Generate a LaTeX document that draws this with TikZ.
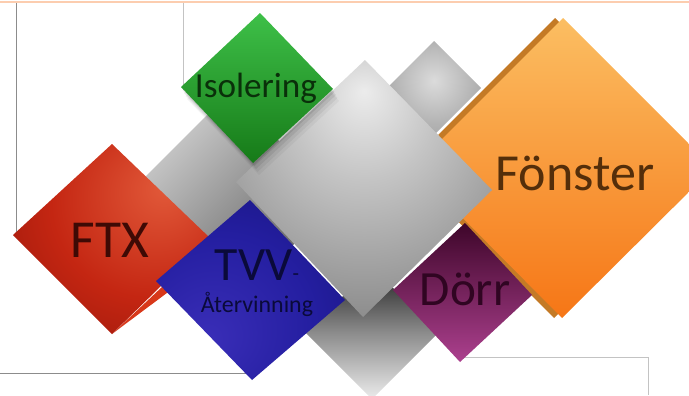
\documentclass[tikz,border=0pt]{standalone}
\usepackage{fontspec}
\setmainfont{Carlito}
\usetikzlibrary{shadings}
% tile colours
\definecolor{peach}{RGB}{252,205,175}
\definecolor{framegrey}{RGB}{140,140,140}
\definecolor{framelight}{RGB}{195,195,195}
\definecolor{redhi}{RGB}{226,90,58}
\definecolor{redmid}{RGB}{196,38,18}
\definecolor{redlo}{RGB}{122,12,6}
\definecolor{redflap}{RGB}{216,56,26}
\definecolor{greenhi}{RGB}{62,192,72}
\definecolor{greenlo}{RGB}{22,122,24}
\definecolor{bluehi}{RGB}{58,46,184}
\definecolor{bluemid}{RGB}{36,30,160}
\definecolor{bluelo}{RGB}{14,12,100}
\definecolor{magtop}{RGB}{62,6,42}
\definecolor{magbot}{RGB}{172,64,142}
\definecolor{orangetop}{RGB}{251,190,98}
\definecolor{orangebot}{RGB}{246,118,22}
\definecolor{orangeside}{RGB}{196,122,38}
\definecolor{greyhi}{RGB}{236,236,236}
\definecolor{greymid}{RGB}{196,196,196}
\definecolor{greylo}{RGB}{145,145,145}
\definecolor{greydeep}{RGB}{110,110,110}
\definecolor{ftxtext}{RGB}{62,10,5}
\definecolor{isotext}{RGB}{10,48,10}
\definecolor{tvvtext}{RGB}{10,10,58}
\definecolor{dorrtext}{RGB}{48,5,34}
\definecolor{fonstertext}{RGB}{84,46,10}
% glow shadings
\pgfdeclareradialshading{greyglow}{\pgfpoint{0bp}{19bp}}{color(0bp)=(greyhi); color(14bp)=(greymid); color(34bp)=(greylo); color(52bp)=(greydeep); color(80bp)=(greydeep)}
\pgfdeclareradialshading{greyback}{\pgfpoint{0bp}{4bp}}{color(0bp)=(black!14); color(22bp)=(black!30); color(45bp)=(black!43); color(80bp)=(black!45)}
\pgfdeclareradialshading{redglow}{\pgfpoint{14bp}{14bp}}{color(0bp)=(redhi); color(25bp)=(redmid); color(58bp)=(redlo); color(80bp)=(redlo)}
\pgfdeclareradialshading{blueglow}{\pgfpoint{-12bp}{-14bp}}{color(0bp)=(bluehi); color(25bp)=(bluemid); color(60bp)=(bluelo); color(80bp)=(bluelo)}

\begin{document}
\begin{tikzpicture}[x=0.025cm, y=-0.025cm,
    tilelabel/.style={inner sep=0pt, anchor=base},
    frameline/.style={line width=0.6pt}]
  \useasboundingbox (0,0) rectangle (689,395);
  \clip (0,0) rectangle (689,395);

  % Frame lines
  \draw[peach, line width=1.4pt] (0,2) -- (689,2);
  \draw[frameline, framegrey] (16,3) -- (16,235);
  \draw[frameline, framelight] (183,3) -- (183,90);
  \draw[frameline, framegrey] (0,373) -- (252,373);
  \draw[frameline, framelight] (460,357) -- (648,357) -- (648,395);

  % Grey tiles at the back
  \shade[shading=greyback] (434,41) -- (481,88) -- (434,135) -- (387,88) -- cycle;
  \shade[top color=greyhi!90!black, bottom color=black!65, shading angle=45]
    (230,92) -- (338,200) -- (230,308) -- (122,200) -- cycle;
  \shade[top color=black!88, bottom color=greyhi, middle color=black!45]
    (372,267) -- (438,333) -- (372,399) -- (306,333) -- cycle;

  % FTX
  \fill[redflap] (112,334) -- (195,272) -- (195,256) -- cycle;
  \shade[shading=redglow] (112,144) -- (210,238) -- (112,334) -- (13,235) -- cycle;

  % TVV
  \shade[shading=blueglow] (250,200) -- (345,300) -- (252,380) -- (156,281) -- cycle;

  % Fönster with its side
  \fill[orangeside] (555,18) -- (705,168) -- (554,318) -- (405,168) -- cycle;
  \shade[top color=orangetop, bottom color=orangebot]
    (563,18) -- (713,168) -- (562,318) -- (413,168) -- cycle;

  % Dörr
  \shade[top color=magtop, bottom color=magbot]
    (465,223) -- (532,295) -- (460,362) -- (393,290) -- cycle;

  % Big grey tile in the middle
  \shade[shading=greyglow] (365,60) -- (492,190) -- (363,317) -- (236,182) -- cycle;

  % soft shadow under Isolering
  \foreach \d/\o in {12/0.04, 9/0.05, 6/0.07, 3/0.09} {
    \fill[black, opacity=\o, shift={(0.5*\d,\d)}]
      (260,13) -- (333,89) -- (253,163) -- (181,87) -- cycle;
  }

  % Isolering
  \shade[top color=greenhi, bottom color=greenlo]
    (260,13) -- (333,89) -- (253,163) -- (181,87) -- cycle;

  % Labels
  \node[tilelabel, text=ftxtext, font=\fontsize{38}{38}\selectfont] (ftx) at (110,257) {FTX};
  \node[tilelabel, text=isotext, font=\fontsize{25}{25}\selectfont] (isolering) at (256,97) {Isolering};
  \node[tilelabel, text=tvvtext, font=\fontsize{34}{34}\selectfont] (tvv) at (257,280) {TVV{\fontsize{15}{15}\selectfont-}};
  \node[tilelabel, text=tvvtext, font=\fontsize{17}{17}\selectfont] (atervinning) at (257,312) {Återvinning};
  \node[tilelabel, text=dorrtext, font=\fontsize{35}{35}\selectfont] (dorr) at (465,305) {Dörr};
  \node[tilelabel, text=fonstertext, font=\fontsize{37}{37}\selectfont] (fonster) at (575,190) {Fönster};
\end{tikzpicture}
\end{document}
